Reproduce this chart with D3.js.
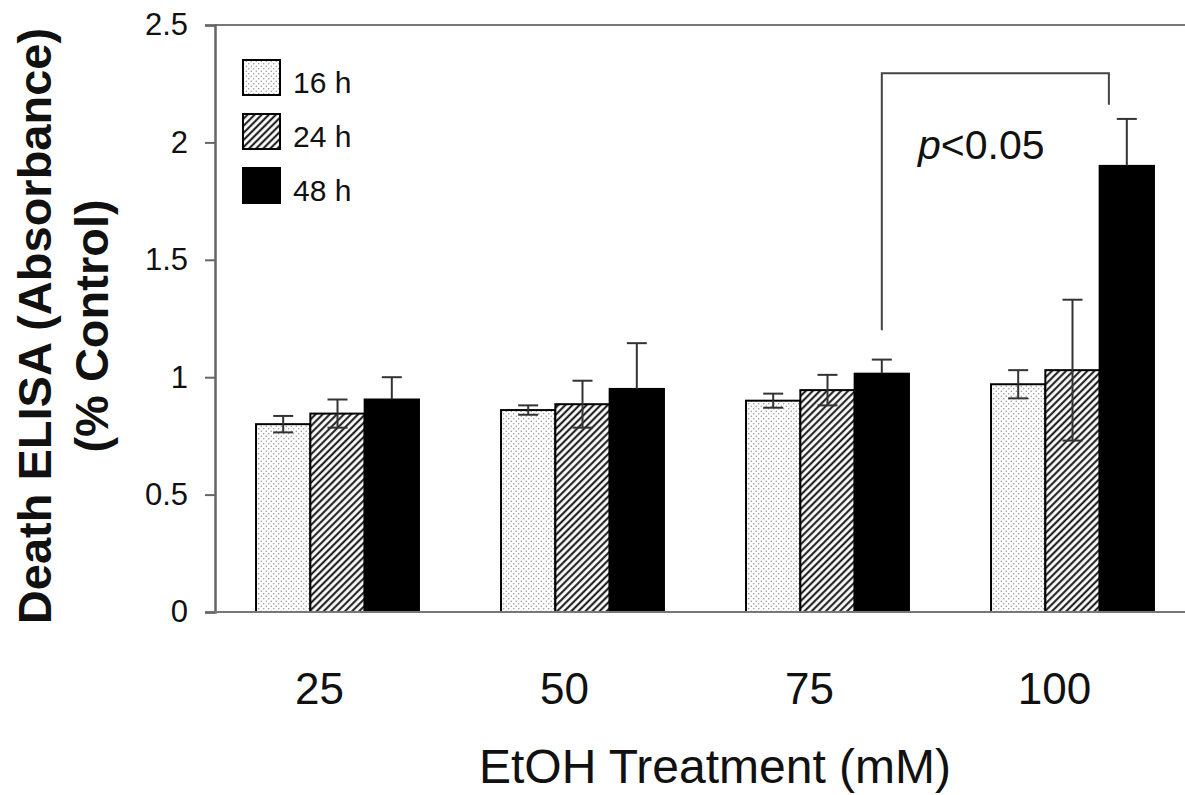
<!DOCTYPE html>
<html>
<head>
<meta charset="utf-8">
<script src="https://cdn.jsdelivr.net/npm/d3@7"></script>
<style>
  html, body { margin: 0; padding: 0; background: #fff; }
  svg { display: block; }
  text { font-family: "Liberation Sans", Arial, sans-serif; fill: #111; }
</style>
</head>
<body>
<svg id="chart" width="1185" height="795"></svg>
<script>
// ---- data ----
const categories = ["25", "50", "75", "100"];
const seriesNames = ["16 h", "24 h", "48 h"];
const values16 = [0.80, 0.86, 0.90, 0.97];
const errors16 = [0.035, 0.02, 0.03, 0.06];
const values24 = [0.845, 0.885, 0.945, 1.03];
const errors24 = [0.06, 0.10, 0.065, 0.30];
const values48 = [0.905, 0.95, 1.015, 1.90];
const errors48 = [0.095, 0.195, 0.06, 0.20];
const yTicks = [0, 0.5, 1, 1.5, 2, 2.5];
const yTickLabels = ["0", "0.5", "1", "1.5", "2", "2.5"];
const xTitle = "EtOH Treatment (mM)";
const yTitleLines = ["Death ELISA (Absorbance)", "(% Control)"];
// significance bracket: from 75 mM / 48 h to 100 mM / 48 h
const bracketFrom = { cat: "75", series: "48 h", y: 1.20 };
const bracketTo = { cat: "100", series: "48 h", y: 2.16 };
const bracketTop = 2.295;
const sigLabel = "<0.05";

(function () {
const seriesValues = [values16, values24, values48];
const seriesErrors = [errors16, errors24, errors48];

const svg = d3.select("#chart");
const W = 1185, H = 795;
svg.append("rect").attr("width", W).attr("height", H).attr("fill", "#fff");

const mLeft = 215, mBottom = 612, mTop = 25, rightRange = 1195;

const x0 = d3.scaleBand().domain(categories).range([mLeft, rightRange])
  .paddingInner(0.335).paddingOuter(0.1675);
const x1 = d3.scaleBand().domain(seriesNames).range([0, x0.bandwidth()]);
const y = d3.scaleLinear().domain([0, 2.5]).range([mBottom, mTop]);

// patterns
const defs = svg.append("defs");
const dots = defs.append("pattern").attr("id", "dots")
  .attr("patternUnits", "userSpaceOnUse").attr("width", 5).attr("height", 5);
dots.append("rect").attr("width", 5).attr("height", 5).attr("fill", "#fff");
dots.append("circle").attr("cx", 1.25).attr("cy", 1.25).attr("r", 0.7).attr("fill", "#888");
dots.append("circle").attr("cx", 3.75).attr("cy", 3.75).attr("r", 0.7).attr("fill", "#888");

const hatch = defs.append("pattern").attr("id", "hatch")
  .attr("patternUnits", "userSpaceOnUse").attr("width", 5).attr("height", 5)
  .attr("patternTransform", "rotate(45)");
hatch.append("rect").attr("width", 5).attr("height", 5).attr("fill", "#fff");
hatch.append("line").attr("x1", 1.2).attr("y1", 0).attr("x2", 1.2).attr("y2", 5)
  .attr("stroke", "#111").attr("stroke-width", 2);

const fills = { "16 h": "url(#dots)", "24 h": "url(#hatch)", "48 h": "#000" };

// top border line
svg.append("line").attr("x1", mLeft).attr("x2", W).attr("y1", y(2.5)).attr("y2", y(2.5))
  .attr("stroke", "#777").attr("stroke-width", 2);

// bars
const rows = [];
categories.forEach((c, i) => {
  seriesNames.forEach((s, j) => {
    rows.push({ cat: c, series: s, v: seriesValues[j][i], e: seriesErrors[j][i] });
  });
});

const g = svg.append("g");
g.selectAll("rect.bar").data(rows).enter().append("rect")
  .attr("class", "bar")
  .attr("x", d => x0(d.cat) + x1(d.series))
  .attr("y", d => y(d.v))
  .attr("width", x1.bandwidth())
  .attr("height", d => y(0) - y(d.v))
  .attr("fill", d => fills[d.series])
  .attr("stroke", "#000").attr("stroke-width", 2);

// error bars (the part inside a solid black bar is black, i.e. hidden)
const capHalf = 10;
const eg = svg.append("g").attr("stroke-width", 2);
rows.forEach(d => {
  const cx = x0(d.cat) + x1(d.series) + x1.bandwidth() / 2;
  const lowColor = fills[d.series] === "#000" ? "#000" : "#333";
  eg.append("line").attr("x1", cx).attr("x2", cx).attr("stroke", "#333")
    .attr("y1", y(d.v)).attr("y2", y(d.v + d.e));
  eg.append("line").attr("x1", cx - capHalf).attr("x2", cx + capHalf).attr("stroke", "#333")
    .attr("y1", y(d.v + d.e)).attr("y2", y(d.v + d.e));
  eg.append("line").attr("x1", cx).attr("x2", cx).attr("stroke", lowColor)
    .attr("y1", y(d.v - d.e)).attr("y2", y(d.v));
  eg.append("line").attr("x1", cx - capHalf).attr("x2", cx + capHalf).attr("stroke", lowColor)
    .attr("y1", y(d.v - d.e)).attr("y2", y(d.v - d.e));
});

// axes
const yAxis = d3.axisLeft(y).tickValues(yTicks).tickSize(10).tickPadding(17)
  .tickFormat((d, i) => yTickLabels[i]);
const ya = svg.append("g").attr("transform", `translate(${mLeft},0)`).call(yAxis);
ya.select(".domain").attr("stroke", "#666").attr("stroke-width", 2.5);
ya.selectAll(".tick line").attr("stroke", "#666").attr("stroke-width", 2);
ya.selectAll(".tick text").attr("font-size", 31).attr("fill", "#111")
  .style("font-family", "'Liberation Sans', Arial, sans-serif");

const xAxis = d3.axisBottom(x0).tickSize(0).tickPadding(61);
const xa = svg.append("g").attr("transform", `translate(0,${mBottom})`).call(xAxis);
xa.select(".domain").remove();
xa.selectAll(".tick text").attr("font-size", 44).attr("fill", "#111").attr("dx", -18)
  .style("font-family", "'Liberation Sans', Arial, sans-serif");
svg.append("line").attr("x1", mLeft).attr("x2", W).attr("y1", mBottom).attr("y2", mBottom)
  .attr("stroke", "#777").attr("stroke-width", 2);

// axis titles
svg.append("text").attr("x", 715).attr("y", 783).attr("text-anchor", "middle")
  .attr("font-size", 48).text(xTitle);

const yt = svg.append("text").attr("transform", "translate(51,326) rotate(-90)")
  .attr("text-anchor", "middle").attr("font-size", 47).attr("font-weight", "bold");
yt.append("tspan").attr("x", 0).attr("y", 0).text(yTitleLines[0]);
yt.append("tspan").attr("x", 0).attr("y", 57).text(yTitleLines[1]);

// legend
const lg = svg.append("g");
seriesNames.forEach((s, i) => {
  const ly = 60 + i * 54;
  lg.append("rect").attr("x", 243).attr("y", ly).attr("width", 37).attr("height", 35)
    .attr("fill", fills[s]).attr("stroke", "#000").attr("stroke-width", 2);
  lg.append("text").attr("x", 293).attr("y", ly + 33).attr("font-size", 30).text(s);
});

// significance bracket
const bx1 = x0(bracketFrom.cat) + x1(bracketFrom.series) + x1.bandwidth() / 2;
const bx2 = x0(bracketTo.cat) + x1(bracketTo.series) + x1.bandwidth() * 0.17;
svg.append("path")
  .attr("d", `M${bx1},${y(bracketFrom.y)} V${y(bracketTop)} H${bx2} V${y(bracketTo.y)}`)
  .attr("fill", "none").attr("stroke", "#444").attr("stroke-width", 2);

const st = svg.append("text").attr("x", 918).attr("y", 159).attr("font-size", 41);
st.append("tspan").attr("font-style", "italic").text("p");
st.append("tspan").text(sigLabel);
})();
</script>
</body>
</html>
